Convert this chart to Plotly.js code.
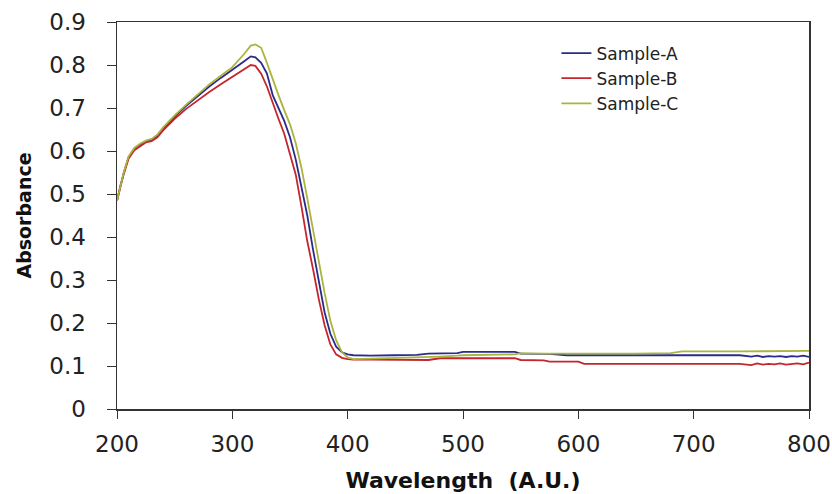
<!DOCTYPE html>
<html>
<head>
<meta charset="utf-8">
<script src="https://cdn.plot.ly/plotly-3.0.1.min.js"></script>
<style>html,body{margin:0;padding:0;background:#fff;}#chart{width:832px;height:494px;}</style>
</head>
<body>
<div id="chart"></div>
<script>
const wavelength = [200,203,206,210,215,220,225,230,235,240,250,260,270,280,290,300,310,316,320,325,330,335,340,345,350,355,360,365,370,375,380,385,390,395,400,405,420,440,460,470,480,495,500,545,550,570,575,590,600,605,650,680,690,740,750,755,760,765,770,775,780,785,790,795,800];
const sampleA = [.484,.52,.55,.585,.605,.615,.622,.625,.636,.652,.68,.705,.728,.75,.77,.788,.808,.82,.818,.805,.78,.73,.70,.67,.632,.58,.515,.45,.37,.295,.225,.175,.145,.132,.127,.125,.124,.125,.126,.129,.129,.130,.133,.133,.129,.129,.128,.125,.125,.125,.125,.125,.125,.125,.122,.124,.121,.123,.122,.123,.121,.123,.122,.124,.121];
const sampleB = [.484,.52,.548,.582,.602,.612,.62,.623,.632,.648,.675,.698,.718,.737,.755,.772,.79,.80,.798,.78,.75,.71,.675,.64,.595,.545,.47,.39,.325,.255,.195,.15,.127,.119,.116,.115,.115,.114,.114,.114,.118,.118,.118,.118,.114,.113,.11,.11,.11,.105,.105,.105,.105,.105,.102,.106,.103,.105,.104,.106,.103,.105,.106,.104,.108];
const sampleC = [.484,.52,.552,.587,.607,.617,.624,.628,.638,.655,.683,.708,.732,.755,.775,.795,.825,.845,.848,.84,.805,.765,.73,.695,.662,.618,.56,.49,.415,.34,.27,.205,.16,.132,.12,.116,.117,.118,.12,.121,.122,.124,.125,.127,.13,.129,.129,.128,.128,.128,.129,.13,.134,.134,.134,.134,.134,.135,.135,.135,.135,.135,.135,.135,.135];
const seriesNames = ['Sample-A','Sample-B','Sample-C'];
const seriesColors = ['#2b2b8a','#c4262b','#aab43e'];
const xTicks = [200,300,400,500,600,700,800];
const yTicks = [0,0.1,0.2,0.3,0.4,0.5,0.6,0.7,0.8,0.9];
const yTickText = ['0','0.1','0.2','0.3','0.4','0.5','0.6','0.7','0.8','0.9'];

const data = [sampleA, sampleB, sampleC].map((ys, i) => ({
  x: wavelength, y: ys, type: 'scatter', mode: 'lines', name: seriesNames[i],
  line: {color: seriesColors[i], width: 1.8}
}));

const tickFont = {family: 'DejaVu Sans, Arial, sans-serif', size: 23, color: '#222'};
const layout = {
  width: 832, height: 494,
  margin: {l: 117, r: 23, t: 22, b: 85},
  paper_bgcolor: '#fff', plot_bgcolor: '#fff',
  showlegend: true,
  legend: {x: 0.635, y: 0.965, xanchor: 'left', yanchor: 'top', bgcolor: 'rgba(0,0,0,0)',
    font: {family: 'DejaVu Sans, Arial, sans-serif', size: 17, color: '#222'}, tracegroupgap: 0},
  xaxis: {range: [200, 800], tickvals: xTicks, ticktext: xTicks.map(String), showgrid: false, zeroline: false,
    showline: true, linecolor: '#333', linewidth: 1.5, mirror: true, ticks: 'outside', ticklen: 8, tickcolor: '#333',
    tickfont: tickFont, ticklabelstandoff: 6,
    title: {text: 'Wavelength\u00a0\u00a0(A.U.)', font: {family: 'DejaVu Sans, Arial, sans-serif', size: 22, color: '#111', weight: 'bold'}, standoff: 16}},
  yaxis: {range: [0, 0.9], tickvals: yTicks, ticktext: yTickText, showgrid: false, zeroline: false,
    showline: true, linecolor: '#333', linewidth: 1.5, mirror: true, ticks: 'outside', ticklen: 9, tickcolor: '#333',
    tickfont: tickFont, ticklabelstandoff: 16,
    title: {text: 'Absorbance', font: {family: 'DejaVu Sans, Arial, sans-serif', size: 19, color: '#111', weight: 'bold'}, standoff: 12}}
};
Plotly.newPlot('chart', data, layout, {staticPlot: true, displayModeBar: false});
</script>
</body>
</html>
